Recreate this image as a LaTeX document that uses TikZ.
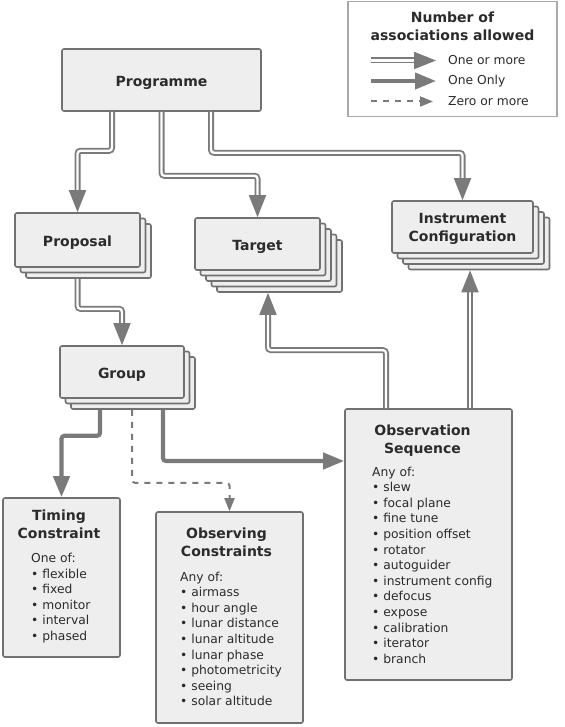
\documentclass[tikz,border=0pt]{standalone}
\usepackage{fontspec}
\setmainfont{DejaVu Sans}
\usetikzlibrary{arrows.meta,shadows}
\usepackage{xcolor}

\definecolor{boxfill}{HTML}{EEEEEE}
\definecolor{boxline}{HTML}{717171}
\definecolor{arrgray}{HTML}{7A7A7A}
\definecolor{txtgray}{HTML}{2B2B2B}
\definecolor{keyline}{HTML}{A9A9A9}

\tikzset{
  entity/.style={draw=boxline,fill=boxfill,line width=1.6pt,rounded corners=2pt,text=txtgray,
    font=\fontsize{14}{18}\selectfont\bfseries,inner sep=0pt,align=center,text height=13.2pt,text depth=0pt},
  sh/.style={general shadow={fill=boxfill,draw=boxline,line width=1.6pt,shadow xshift=#1,shadow yshift=-#1}},
  onemore/.style={draw=arrgray,line width=1.8pt,double=white,double distance=2.4pt,rounded corners=3pt,
    -{Triangle[length=22pt,width=17pt]}},
  oneonly/.style={draw=arrgray,line width=4.2pt,rounded corners=3pt,-{Triangle[length=21pt,width=16pt]}},
  zeromore/.style={draw=arrgray,line width=2pt,dash pattern=on 6pt off 6pt,rounded corners=3pt,
    -{Triangle[length=13pt,width=10pt]}},
  heading/.style={anchor=north,inner sep=0pt,align=center,text=txtgray,font=\fontsize{14}{18}\selectfont\bfseries},
  itemlist/.style={anchor=north west,inner sep=0pt,align=left,text=txtgray,font=\fontsize{12.3}{15.6}\selectfont},
  keytext/.style={anchor=west,inner sep=0pt,text=txtgray,font=\fontsize{12.3}{15.6}\selectfont},
}

\begin{document}
\begin{tikzpicture}[x=1pt,y=-1pt]
\useasboundingbox (0,0) rectangle (564,727);

% legend
\node[draw=keyline,line width=1.5pt,fill=white,minimum width=209pt,minimum height=115pt,inner sep=0pt] (key) at (452.5,59) {};
\node[heading] (keyt) at (452.5,11.5) {Number of\\associations allowed};
\node[keytext] (k1) at (448,60.5) {One or more};
\node[keytext] (k2) at (448,81) {One Only};
\node[keytext] (k3) at (448,101.5) {Zero or more};
\draw[onemore] ([xshift=-77]k1.west) -- ([xshift=-12]k1.west);
\draw[oneonly] ([xshift=-77]k2.west) -- ([xshift=-12]k2.west);
\draw[zeromore] ([xshift=-77]k3.west) -- ([xshift=-15]k3.west);

% boxes
\node[entity,minimum width=199pt,minimum height=62pt] (prog) at (161.5,80) {Programme};
\node[entity,sh=11pt,sh=5.5pt,minimum width=125pt,minimum height=54pt] (prop) at (77.5,240) {Proposal};
\node[entity,sh=22pt,sh=16.5pt,sh=11pt,sh=5.5pt,minimum width=125pt,minimum height=52pt] (targ) at (257.5,244) {Target};
\node[entity,sh=16.5pt,sh=11pt,sh=5.5pt,minimum width=141pt,minimum height=52pt] (inst) at (462.5,227) {};
\node[entity,sh=11pt,sh=5.5pt,minimum width=124pt,minimum height=52pt] (grp) at (122,372) {Group};
\node[entity,minimum width=117pt,minimum height=159pt] (tim) at (61.5,577.5) {};
\node[entity,minimum width=147pt,minimum height=211pt] (obsc) at (229.5,617.5) {};
\node[entity,minimum width=167pt,minimum height=271pt] (obs) at (428.5,544.5) {};

% box texts
\node[heading] (instt) at (462.5,213.5) {Instrument\\Configuration};
\node[heading] (timt) at (59,509.5) {Timing\\Constraint};
\node[itemlist] (timl) at (31,553) {One of:\\\textbullet\ flexible\\\textbullet\ fixed\\\textbullet\ monitor\\\textbullet\ interval\\\textbullet\ phased};
\node[heading] (obsct) at (226.5,527.5) {Observing\\Constraints};
\node[itemlist] (obscl) at (180,571.5) {Any of:\\\textbullet\ airmass\\\textbullet\ hour angle\\\textbullet\ lunar distance\\\textbullet\ lunar altitude\\\textbullet\ lunar phase\\\textbullet\ photometricity\\\textbullet\ seeing\\\textbullet\ solar altitude};
\node[heading] (obst) at (422.5,424.5) {Observation\\Sequence};
\node[itemlist] (obsl) at (372,466.5) {Any of:\\\textbullet\ slew\\\textbullet\ focal plane\\\textbullet\ fine tune\\\textbullet\ position offset\\\textbullet\ rotator\\\textbullet\ autoguider\\\textbullet\ instrument config\\\textbullet\ defocus\\\textbullet\ expose\\\textbullet\ calibration\\\textbullet\ iterator\\\textbullet\ branch};

% one or more
\draw[onemore] ([xshift=-49.5]prog.south) -- ++(0,39) -| (prop.north);
\draw[onemore] (prog.south) -- ++(0,64) -| (targ.north);
\draw[onemore] ([xshift=49.5]prog.south) -- ++(0,41) -| (inst.north);
\draw[onemore] ([yshift=-11]prop.south) -- ++(0,30) -| (grp.north);
\draw[onemore] ([xshift=-42.5]obs.north) -- ++(0,-58) -| ([xshift=10.5,yshift=-22]targ.south);
\draw[onemore] ([xshift=41.5]obs.north) -- ([xshift=7.5,yshift=-16.5]inst.south);

% one only
\draw[oneonly] ([xshift=-22,yshift=-11]grp.south) -- ++(0,26) -| (tim.north);
\draw[oneonly] ([xshift=41,yshift=-11]grp.south) |- ([yshift=83.5]obs.west);

% zero or more
\draw[zeromore] ([xshift=10,yshift=-11]grp.south) -- ++(0,73) -| (obsc.north);
\end{tikzpicture}
\end{document}
